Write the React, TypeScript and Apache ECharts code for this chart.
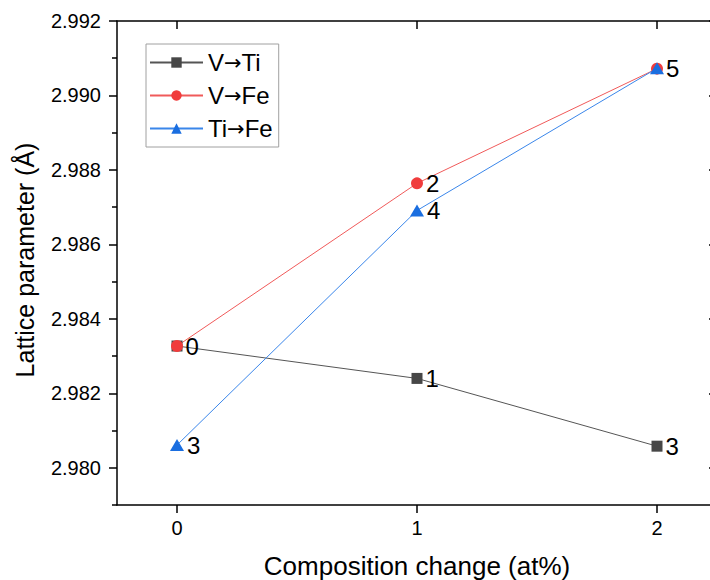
import React, { useEffect, useRef } from "react";
import * as echarts from "echarts";

// Composition change (at%) on the x axis
const compositions = [0, 1, 2];

// Lattice parameter (Å) for each substitution path
const vToTi = [2.98327, 2.9824, 2.98058];
const vToFe = [2.98327, 2.98764, 2.99072];
const tiToFe = [2.98061, 2.98691, 2.99073];

// Point annotations (blank where another series already labels the same spot)
const vToTiLabels = ["0", "1", "3"];
const vToFeLabels = ["", "2", "5"];
const tiToFeLabels = ["3", "4", ""];

// Axis ticks
const xTicks = [0, 1, 2];
const yMajorTicks = [2.98, 2.982, 2.984, 2.986, 2.988, 2.99, 2.992];
const yMinorTicks = [2.979, 2.981, 2.983, 2.985, 2.987, 2.989, 2.991];

const FONT = "'Liberation Sans', Arial, sans-serif";
const ARROW_FONT = "'DejaVu Sans', sans-serif";
const AXIS_COLOR = "#000";

function pairs(ys: number[]) {
  return compositions.map((x, i) => [x, ys[i]]);
}

function makeSeries(
  name: string,
  ys: number[],
  labels: string[],
  color: string,
  lineColor: string,
  symbol: string,
  symbolSize: number | number[]
) {
  return {
    name,
    type: "line",
    data: pairs(ys),
    symbol,
    symbolSize,
    itemStyle: { color },
    lineStyle: { color: lineColor, width: 1 },
    label: {
      show: true,
      position: "right",
      distance: 3,
      fontSize: 24,
      fontFamily: FONT,
      color: "#000",
      formatter: (p: any) => labels[p.dataIndex],
    },
    emphasis: { disabled: true },
  };
}

export default function App() {
  const ref = useRef<HTMLDivElement>(null);

  useEffect(() => {
    if (!ref.current) return;
    const chart = echarts.init(ref.current, undefined, { renderer: "svg" });

    const axisLine = { show: true, onZero: false, lineStyle: { color: AXIS_COLOR, width: 1.5 } };
    const xCommon = {
      type: "value",
      min: -0.25,
      max: 2.25,
      splitLine: { show: false },
      axisLine,
    };
    const yCommon = {
      type: "value",
      min: 2.979,
      max: 2.992,
      splitLine: { show: false },
      axisLine,
    };

    chart.setOption({
      animation: false,
      backgroundColor: "#fff",
      grid: { left: 117, top: 21, width: 600, height: 484, outerBoundsMode: "none", containLabel: false },
      legend: {
        left: 146,
        top: 44,
        orient: "vertical",
        itemGap: 8,
        itemWidth: 53,
        itemHeight: 13,
        padding: [6, 6, 6, 3],
        borderColor: "#a0a0a0",
        borderWidth: 1,
        formatter: (name: string) => name.replace("→", "{a|→}"),
        textStyle: {
          fontSize: 24,
          lineHeight: 25,
          fontFamily: FONT,
          color: "#000",
          rich: {
            a: { fontSize: 21, fontFamily: ARROW_FONT, color: "#000", lineHeight: 25 },
          },
        },
        data: ["V→Ti", "V→Fe", "Ti→Fe"],
      },
      xAxis: [
        {
          ...xCommon,
          position: "bottom",
          name: "Composition change (at%)",
          nameLocation: "middle",
          nameGap: 48,
          nameTextStyle: { fontSize: 26, fontFamily: FONT, color: "#000" },
          axisTick: {
            show: true,
            inside: false,
            length: 8,
            customValues: xTicks,
            lineStyle: { color: AXIS_COLOR, width: 1.5 },
          },
          axisLabel: {
            show: true,
            customValues: xTicks,
            margin: 13,
            fontSize: 20,
            fontFamily: FONT,
            color: "#000",
          },
        },
        {
          ...xCommon,
          position: "top",
          axisTick: {
            show: true,
            inside: true,
            length: 8,
            customValues: xTicks,
            lineStyle: { color: AXIS_COLOR, width: 1.5 },
          },
          axisLabel: { show: false },
        },
      ],
      yAxis: [
        {
          ...yCommon,
          position: "left",
          name: "Lattice parameter (Å)",
          nameLocation: "middle",
          nameGap: 80,
          nameTextStyle: { fontSize: 25, fontFamily: FONT, color: "#000", padding: [0, 0, 0, 6] },
          axisTick: {
            show: true,
            inside: false,
            length: 8,
            customValues: yMajorTicks,
            lineStyle: { color: AXIS_COLOR, width: 1.5 },
          },
          axisLabel: {
            show: true,
            customValues: yMajorTicks,
            margin: 16,
            fontSize: 20,
            fontFamily: FONT,
            color: "#000",
            formatter: (v: number) => v.toFixed(3),
          },
        },
        {
          ...yCommon,
          position: "right",
          axisTick: {
            show: true,
            inside: true,
            length: 8,
            customValues: yMajorTicks,
            lineStyle: { color: AXIS_COLOR, width: 1.5 },
          },
          axisLabel: { show: false },
        },
        {
          ...yCommon,
          position: "left",
          axisLine: { show: false, onZero: false },
          axisTick: {
            show: true,
            inside: false,
            length: 5,
            customValues: yMinorTicks,
            lineStyle: { color: AXIS_COLOR, width: 1.5 },
          },
          axisLabel: { show: false },
        },
      ],
      series: [
        makeSeries("V→Ti", vToTi, vToTiLabels, "#474747", "#555555", "rect", 11),
        makeSeries("V→Fe", vToFe, vToFeLabels, "#f03c3c", "#f05a5a", "circle", 12),
        makeSeries("Ti→Fe", tiToFe, tiToFeLabels, "#1a6ee0", "#3a86ea", "triangle", [14, 12]),
      ],
    });

    return () => chart.dispose();
  }, []);

  return (
    <div
      ref={ref}
      style={{ position: "fixed", left: 0, top: 0, width: 710, height: 580, background: "#fff" }}
    />
  );
}
